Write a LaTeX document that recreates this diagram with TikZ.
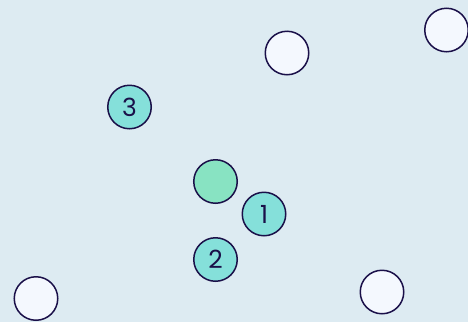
\documentclass[tikz,border=0pt]{standalone}
\usepackage{fontspec}
\setmainfont{Poppins}
\definecolor{bgblue}{HTML}{DDEBF2}
\definecolor{ringline}{HTML}{1A1049}
\definecolor{tealfill}{HTML}{85E0DA}
\definecolor{mintfill}{HTML}{88E3C2}
\definecolor{paperfill}{HTML}{F4F8FE}

\begin{document}
\begin{tikzpicture}[x=1pt, y=-1pt,
    dot/.style={circle, draw=ringline, line width=1.5pt, minimum size=43.5pt, inner sep=0pt, font=\fontsize{25}{25}\selectfont, text=ringline},
    emptydot/.style={dot, fill=paperfill},
    numdot/.style={dot, fill=tealfill},
    centerdot/.style={dot, fill=mintfill}]
    % Background
    \fill[bgblue] (0,0) rectangle (468,322);
    \useasboundingbox (0,0) rectangle (468,322);

    % Outer points
    \node[emptydot] (topmid) at (287,53) {};
    \node[emptydot] (topright) at (446.5,30) {};
    \node[emptydot] (botleft) at (36,298.5) {};
    \node[emptydot] (botright) at (382,292) {};

    % Centre and ranked neighbours
    \node[centerdot] (query) at (215.5,181.5) {};
    \node[numdot] (first) at (264,214) {1};
    \node[numdot] (second) at (215.5,259.5) {2};
    \node[numdot] (third) at (129.5,107) {3};
\end{tikzpicture}
\end{document}
